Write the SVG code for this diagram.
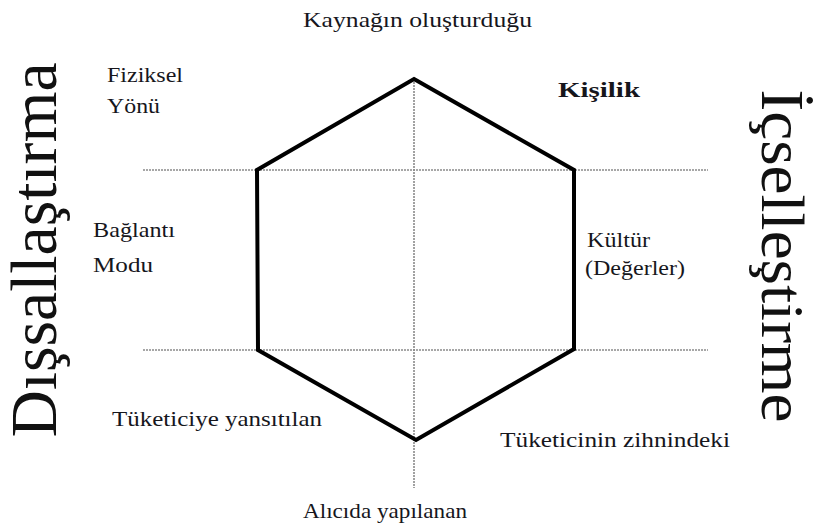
<svg xmlns="http://www.w3.org/2000/svg" width="814" height="530" viewBox="0 0 814 530">
<style>
.lbl{font-family:"Liberation Serif","Times New Roman",serif;font-size:21px;fill:#16161c}
.big{font-family:"Liberation Serif","Times New Roman",serif;fill:#111}
.dot{stroke:#8a8a8a;stroke-width:1.6;stroke-dasharray:2 1;fill:none}
.hex{stroke:#000;stroke-width:4;fill:none;stroke-linejoin:miter}
</style>
<rect width="814" height="530" fill="#fff"/>
<g id="connectors">
<line class="dot" x1="143" y1="170" x2="708" y2="170"/>
<line class="dot" x1="143" y1="350" x2="708" y2="350"/>
<line class="dot" x1="414" y1="79" x2="414" y2="488"/>
</g>
<g id="hexagon">
<polygon class="hex" points="414,79 574,170 574,349 416,440 258,350 257,170"/>
</g>
<g id="title-left">
<text class="big" font-size="66" text-anchor="middle" textLength="375" lengthAdjust="spacingAndGlyphs" transform="translate(56,250) rotate(-90)">Dışsallaştırma</text>
</g>
<g id="title-right">
<text class="big" font-size="61" text-anchor="middle" textLength="333" lengthAdjust="spacingAndGlyphs" transform="translate(762,256) rotate(90)">İçselleştirme</text>
</g>
<g id="top-label"><text class="lbl" x="303" y="27" textLength="229" lengthAdjust="spacingAndGlyphs">Kaynağın oluşturduğu</text></g>
<g id="fiziksel"><text class="lbl" x="107" y="82" textLength="76" lengthAdjust="spacingAndGlyphs">Fiziksel</text><text class="lbl" x="107" y="113" textLength="53" lengthAdjust="spacingAndGlyphs">Yönü</text></g>
<g id="kisilik"><text class="lbl" x="558" y="97" font-weight="bold" textLength="82" lengthAdjust="spacingAndGlyphs">Kişilik</text></g>
<g id="baglanti"><text class="lbl" x="93" y="237" textLength="82" lengthAdjust="spacingAndGlyphs">Bağlantı</text><text class="lbl" x="93" y="272" textLength="60" lengthAdjust="spacingAndGlyphs">Modu</text></g>
<g id="kultur"><text class="lbl" x="587" y="247" textLength="63" lengthAdjust="spacingAndGlyphs">Kültür</text><text class="lbl" x="585" y="275" textLength="100" lengthAdjust="spacingAndGlyphs">(Değerler)</text></g>
<g id="yansitilan"><text class="lbl" x="112" y="426" textLength="210" lengthAdjust="spacingAndGlyphs">Tüketiciye yansıtılan</text></g>
<g id="zihnindeki"><text class="lbl" x="500" y="447" textLength="230" lengthAdjust="spacingAndGlyphs">Tüketicinin zihnindeki</text></g>
<g id="alicida"><text class="lbl" x="303" y="518" textLength="164" lengthAdjust="spacingAndGlyphs">Alıcıda yapılanan</text></g>
</svg>
